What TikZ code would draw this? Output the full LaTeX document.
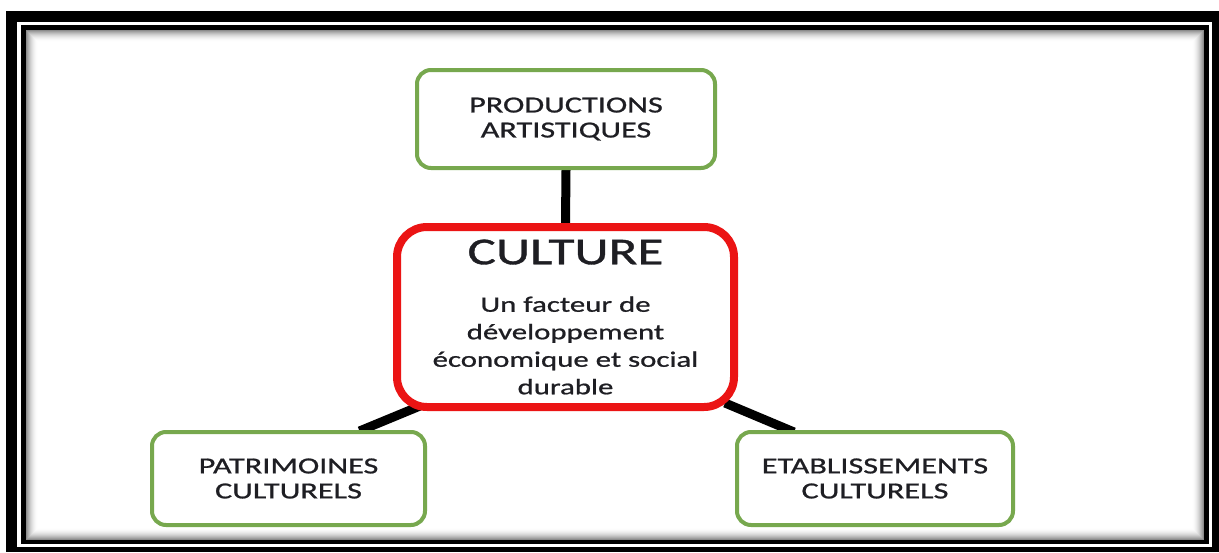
\documentclass[tikz,border=0pt]{standalone}
\usepackage{fontspec}
\setmainfont{Carlito}[FakeStretch=1.4,FakeBold=0.9]
\usetikzlibrary{calc}
\definecolor{boxgreen}{RGB}{119,168,78}
\definecolor{boxred}{RGB}{235,20,20}
\definecolor{txt}{RGB}{30,30,35}
\pgfdeclarelayer{bg}
\pgfdeclarelayer{links}
\pgfsetlayers{bg,links,main}
\begin{document}
\begin{tikzpicture}[x=1pt,y=-1pt,
  greenbox/.style={draw=boxgreen, line width=4pt, rounded corners=14pt, fill=white,
    align=center, text=txt, font=\fontsize{23}{25}\selectfont, inner sep=0pt},
  redbox/.style={draw=boxred, line width=8pt, rounded corners=30pt, fill=white,
    align=center, text=txt, font=\fontsize{22}{27.5}\selectfont, inner sep=0pt},
  link/.style={line width=9pt, black}
]
\useasboundingbox (0,0) rectangle (1219,552);
% frame
\begin{pgfonlayer}{bg}
\fill[white] (0,0) rectangle (1219,552);
\fill[black] (6,11) rectangle (1219,552);
\fill[white] (17,22) rectangle (1212,547);
\fill[black] (21,25) rectangle (1209,544);
\fill[white] (26,30) rectangle (1204,540);
\foreach \i in {0,...,11}{
  \pgfmathsetmacro\p{45*(1-\i/12)*(1-\i/12)}
  \draw[black!\p, line width=1pt] (26.5+\i,30.5+\i) rectangle (1203.5-\i,539.5-\i);
}
\end{pgfonlayer}
% nodes
\node[greenbox, minimum width=298, minimum height=98] (top) at (566,119) {PRODUCTIONS\\ARTISTIQUES};
\node[redbox, minimum width=337, minimum height=180] (red) at (565.5,317)
  {\fontsize{38}{40}\selectfont CULTURE\\[20pt]\fontsize{22}{27.5}\selectfont Un facteur de\\développement\\économique et social\\durable};
\node[greenbox, minimum width=273, minimum height=93] (bl) at (288.5,478.5) {PATRIMOINES\\CULTURELS};
\node[greenbox, minimum width=276, minimum height=93] (br) at (875,478.5) {ETABLISSEMENTS\\CULTURELS};
% connectors (behind boxes)
\begin{pgfonlayer}{links}
\draw[link] (top.south) -- (red.north);
\draw[link] ($(bl.north)+(71,1)$) -- ($(red.south west)+(27,-5)$);
\draw[link] ($(br.north)+(-81,2)$) -- ($(red.south east)+(-13,-8)$);
\end{pgfonlayer}
\end{tikzpicture}
\end{document}
